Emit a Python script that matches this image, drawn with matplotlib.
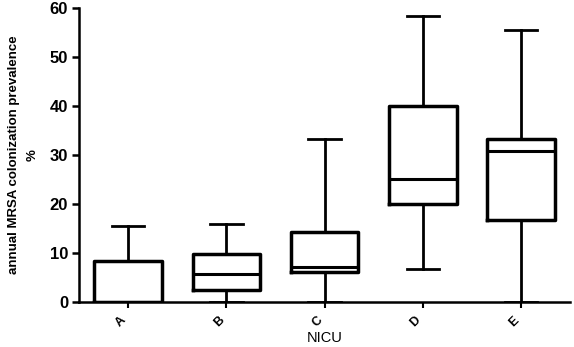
import matplotlib.pyplot as plt

# NICU groups and box statistics (% prevalence)
nicus = ['A', 'B', 'C', 'D', 'E']
whislo = [0.0, 0.0, 0.0, 6.7, 0.0]
q1 = [0.0, 2.5, 6.2, 20.0, 16.7]
med = [0.0, 5.6, 7.1, 25.0, 30.8]
q3 = [8.4, 9.7, 14.3, 40.0, 33.3]
whishi = [15.4, 16.0, 33.3, 58.3, 55.6]

stats = []
for i in range(len(nicus)):
    stats.append(dict(label=nicus[i], whislo=whislo[i], q1=q1[i], med=med[i],
                      q3=q3[i], whishi=whishi[i], fliers=[]))

fig = plt.figure(figsize=(5.74, 3.47), dpi=100)
ax = fig.add_axes([0.138, 0.130, 0.855, 0.847])

ax.bxp(stats, positions=range(1, 6), widths=0.69, showfliers=False,
       boxprops=dict(color='black', linewidth=2.5),
       medianprops=dict(color='black', linewidth=2.2),
       whiskerprops=dict(color='black', linewidth=2.0),
       capprops=dict(color='black', linewidth=2.0), capwidths=0.33)

ax.set_xlim(0.5, 5.5)
ax.set_ylim(0, 60)
ax.set_yticks(range(0, 61, 10))
ax.spines['top'].set_visible(False)
ax.spines['right'].set_visible(False)
ax.spines['left'].set_linewidth(1.8)
ax.spines['bottom'].set_linewidth(1.8)
ax.tick_params(axis='y', length=5, width=1.8, labelsize=12, pad=3)
ax.tick_params(axis='x', length=4, width=1.5, labelsize=9, pad=5)
for lab in ax.get_yticklabels():
    lab.set_fontweight('bold')
    lab.set_family('Liberation Sans')
ax.set_xticks(range(1, 6))
ax.set_xticklabels(nicus, rotation=45, ha='right', fontweight='bold',
                   family='Liberation Sans')

ax.set_xlabel('NICU', fontsize=10.5, family='Liberation Sans', labelpad=1)
ax.set_ylabel('annual MRSA colonization prevalence\n%', fontsize=9.5,
              fontweight='bold', family='Liberation Sans',
              linespacing=1.7)
ax.yaxis.set_label_coords(-0.083, 0.50)

fig.savefig('out.png', dpi=100)
